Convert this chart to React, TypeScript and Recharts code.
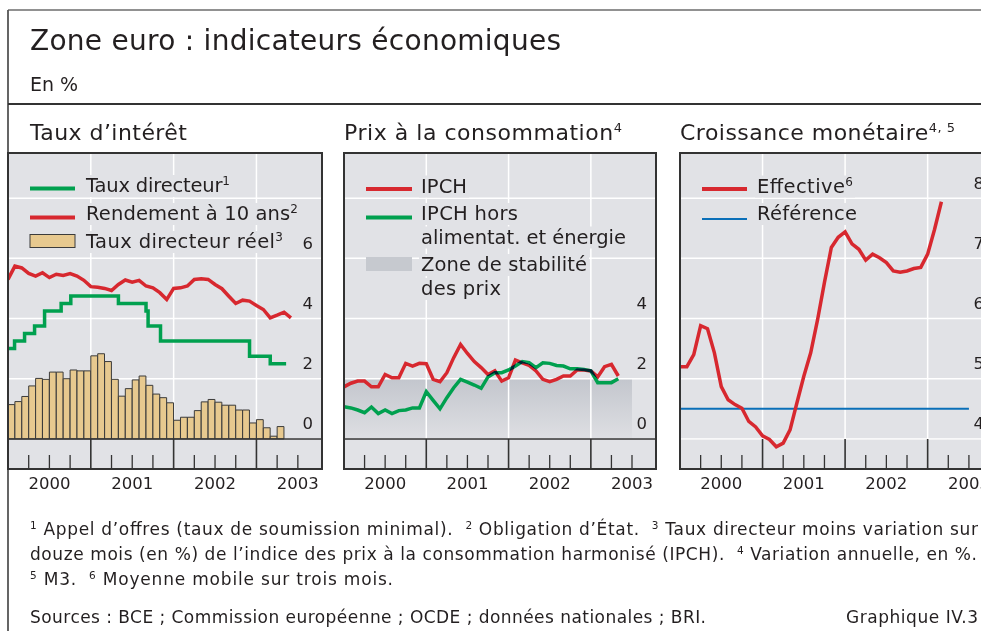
import React from "react";
import {
  ComposedChart,
  Bar,
  Line,
  XAxis,
  YAxis,
  CartesianGrid,
  ReferenceArea,
  ReferenceLine,
} from "recharts";

// x is counted in months from January 2000 (0) to autumn 2003
const YEARS = ["2000", "2001", "2002", "2003"];
const QUARTER_TICKS = [0, 3, 6, 9, 12, 15, 18, 21, 24, 27, 30, 33, 36, 39, 42];
const YEAR_STARTS = [12, 24, 36];
const LAST_MONTH = 45.5;

// Taux d'intérêt
const realPolicyRate = [
  1.14, 1.24, 1.41, 1.76, 2.01, 1.98, 2.22, 2.22, 2.0, 2.29, 2.26, 2.26,
  2.76, 2.83, 2.57, 1.98, 1.42, 1.67, 1.96, 2.09, 1.78, 1.49, 1.37, 1.2,
  0.62, 0.72, 0.72, 0.94, 1.23, 1.31, 1.22, 1.12, 1.12, 0.96, 0.96, 0.53,
  0.64, 0.37, 0.09, 0.41,
];
const bondYield = [
  5.3, 5.74, 5.68, 5.5, 5.41, 5.52, 5.36, 5.47, 5.43, 5.49, 5.41, 5.27,
  5.06, 5.04, 5.0, 4.93, 5.13, 5.28, 5.21, 5.27, 5.08, 5.02, 4.86, 4.63,
  5.0, 5.02, 5.08, 5.3, 5.32, 5.3, 5.13, 4.99, 4.74, 4.5, 4.61, 4.58,
  4.43, 4.3, 4.02, 4.11, 4.21, 4.02,
];
const policyRateFrom = [0, 0.95, 2.4, 3.85, 5.3, 7.7, 9.1, 16.0, 20.0, 20.3, 22.1, 35.0, 38.0, 40.3];
const policyRate = [3.0, 3.25, 3.5, 3.75, 4.25, 4.5, 4.75, 4.5, 4.25, 3.75, 3.25, 2.75, 2.5, 2.5];

// Prix à la consommation
const hicp = [
  1.73, 1.85, 1.92, 1.92, 1.73, 1.73, 2.14, 2.03, 2.03, 2.51, 2.42, 2.51,
  2.5, 1.98, 1.9, 2.2, 2.7, 3.14, 2.84, 2.57, 2.37, 2.14, 2.26, 1.92,
  2.03, 2.62, 2.53, 2.44, 2.26, 1.98, 1.9, 1.98, 2.09, 2.09, 2.29, 2.29,
  2.26, 2.06, 2.4, 2.48, 2.09,
];
const hicpCore = [
  1.07, 1.03, 0.96, 0.87, 1.06, 0.84, 0.96, 0.84, 0.94, 0.96, 1.03, 1.03,
  1.57, 1.28, 1.0, 1.37, 1.7, 1.98, 1.89, 1.79, 1.68, 2.06, 2.2, 2.2,
  2.29, 2.42, 2.57, 2.53, 2.37, 2.53, 2.51, 2.44, 2.42, 2.33, 2.33, 2.31,
  2.26, 1.87, 1.87, 1.87, 2.0,
];
const stabilityZone = [0, 2];
const stabilityUntil = 42;

// Croissance monétaire
const m3Growth = [
  5.2, 5.2, 5.4, 5.88, 5.83, 5.43, 4.87, 4.65, 4.57, 4.51, 4.29, 4.2,
  4.05, 3.99, 3.87, 3.93, 4.15, 4.6, 5.04, 5.43, 5.98, 6.6, 7.18, 7.35,
  7.44, 7.24, 7.15, 6.97, 7.07, 7.01, 6.93, 6.79, 6.77, 6.79, 6.83, 6.85,
  7.07, 7.48, 7.94,
];
const m3Reference = 4.5;
const m3ReferenceSpan = [0, 42];

// notes ("^" = superscript, "|" = wider gap before)
const note1 = ["^1", " Appel d’offres (taux de soumission minimal).", "|^2", " Obligation d’État.", "|^3", " Taux directeur moins variation sur"];
const note2 = ["douze mois (en %) de l’indice des prix à la consommation harmonisé (IPCH).", "|^4", " Variation annuelle, en %."];
const note3 = ["^5", " M3.", "|^6", " Moyenne mobile sur trois mois."];

const barRows = realPolicyRate.map((v, i) => ({ m: i + 0.5, v }));
const bondRows = bondYield.map((v, i) => ({ m: i, v }));
const policyRows = policyRateFrom.map((m, i) => ({ m, v: policyRate[i] }));
const hicpRows = hicp.map((v, i) => ({ m: i, v }));
const coreRows = hicpCore.map((v, i) => ({ m: i, v }));
const m3Rows = m3Growth.map((v, i) => ({ m: i, v }));
const refRows = m3ReferenceSpan.map((m) => ({ m, v: m3Reference }));

const FONT = '"DejaVu Sans", sans-serif';
const INK = "#231f20";
const RED = "#d7282f";
const GREEN = "#00a04f";
const BLUE = "#0a6fb8";
const TAN = "#e7c98f";
const BG = "#e1e2e6";
const FRAME = "#333333";

const PLOT_TOP = 153;
const PLOT_H = 316;
const AXIS_H = 40;
const STRIP = 30;

const DateTick = (props: any) => {
  const { x, y, payload } = props;
  const m = payload.value as number;
  const yearStart = m % 12 === 0;
  const label = m % 12 === 6 ? YEARS[(m - 6) / 12] : null;
  return (
    <g>
      {m > 0 && (
        <line
          x1={x}
          x2={x}
          y1={y}
          y2={y - (yearStart ? STRIP : 14)}
          stroke={FRAME}
          strokeWidth={yearStart ? 1.6 : 1.3}
        />
      )}
      {label && (
        <text x={x} y={y + 20} textAnchor="middle" fontSize={16.5} fontFamily={FONT} fill={INK}>
          {label}
        </text>
      )}
    </g>
  );
};

const valueTick = (plotWidth: number, shown: number[]) => (props: any) => {
  const { y, payload } = props;
  if (!shown.includes(payload.value)) return <g />;
  return (
    <text x={plotWidth - 9} y={y - 9.5} textAnchor="end" fontSize={16.5} fontFamily={FONT} fill={INK}>
      {payload.value}
    </text>
  );
};

const yearGrid = (p: any) => {
  const scale = p?.xAxis?.scale;
  return YEAR_STARTS.map((m) =>
    typeof scale === "function" ? scale(m) : p.offset.left + (m / LAST_MONTH) * p.offset.width
  );
};

const xAxisMain = (
  <XAxis
    dataKey="m"
    type="number"
    domain={[0, LAST_MONTH]}
    allowDataOverflow
    ticks={QUARTER_TICKS}
    interval={0}
    tick={DateTick}
    tickLine={false}
    axisLine={false}
    tickSize={0}
    tickMargin={0}
    height={AXIS_H}
  />
);

const valueAxis = (w: number, domain: number[], ticks: number[], shown: number[]) => (
  <YAxis
    domain={domain}
    allowDataOverflow
    ticks={ticks}
    interval={0}
    orientation="right"
    mirror
    width={40}
    axisLine={false}
    tickLine={false}
    tick={valueTick(w, shown)}
  />
);

// text with superscript pieces, written as tspans
function Rich({ parts, size, supSize, up, gap = 0 }: any) {
  let raised = false;
  return parts.map((raw: string, i: number) => {
    const wide = raw.startsWith("|");
    const s = wide ? raw.slice(1) : raw;
    const sup = s.startsWith("^");
    const t = sup ? s.slice(1) : s;
    const dy = sup && !raised ? -up : !sup && raised ? up : undefined;
    raised = sup;
    return (
      <tspan key={i} dy={dy} dx={wide ? gap : undefined} fontSize={sup ? supSize : size}>
        {t}
      </tspan>
    );
  });
}

const LegendText = ({ x, y, len, parts }: any) => (
  <g>
    <rect x={x - 2} y={y - 17} width={len + 4} height={22} fill={BG} />
    <text x={x} y={y} fontSize={19.5} textLength={len} lengthAdjust="spacing" fill={INK}>
      <Rich parts={parts} size={19.5} supSize={12} up={7} />
    </text>
  </g>
);

function RatesChart() {
  const w = 314;
  return (
    <ComposedChart width={w} height={PLOT_H + AXIS_H} data={barRows} margin={{ top: 0, right: 0, bottom: 0, left: 0 }}>
      {xAxisMain}
      <XAxis xAxisId="bars" dataKey="m" type="number" domain={[0, LAST_MONTH]} allowDataOverflow hide />
      {valueAxis(w, [-1, 9.5], [0, 2, 4, 6, 8], [0, 2, 4, 6])}
      <CartesianGrid stroke="#ffffff" strokeWidth={1.5} verticalCoordinatesGenerator={yearGrid} syncWithTicks={false} />
      <ReferenceArea y1={-1} y2={0} fill={BG} fillOpacity={1} stroke="none" zIndex={-50} />
      <Bar xAxisId="bars" dataKey="v" fill={TAN} stroke="#3b3b3b" strokeWidth={1} barSize={6.8} isAnimationActive={false} />
      <ReferenceLine y={0} stroke={FRAME} strokeWidth={1.5} />
      <Line data={bondRows} dataKey="v" type="linear" stroke={RED} strokeWidth={3.5} dot={false} isAnimationActive={false} />
      <Line data={policyRows} dataKey="v" type="stepAfter" stroke={GREEN} strokeWidth={3.5} dot={false} isAnimationActive={false} />
    </ComposedChart>
  );
}

function PricesChart() {
  const w = 312;
  return (
    <ComposedChart width={w} height={PLOT_H + AXIS_H} margin={{ top: 0, right: 0, bottom: 0, left: 0 }}>
      <defs>
        <linearGradient id="zoneFill" x1="0" y1="0" x2="0" y2="1">
          <stop offset="0%" stopColor="#c3c6cd" />
          <stop offset="100%" stopColor="#dedfe3" />
        </linearGradient>
      </defs>
      {xAxisMain}
      {valueAxis(w, [-1, 9.5], [0, 2, 4, 6, 8], [0, 2, 4])}
      <ReferenceArea
        x1={0}
        x2={stabilityUntil}
        y1={stabilityZone[0]}
        y2={stabilityZone[1]}
        fill="url(#zoneFill)"
        fillOpacity={1}
        stroke="none"
        zIndex={-200}
      />
      <CartesianGrid stroke="#ffffff" strokeWidth={1.5} verticalCoordinatesGenerator={yearGrid} syncWithTicks={false} />
      <ReferenceArea y1={-1} y2={0} fill={BG} fillOpacity={1} stroke="none" zIndex={-50} />
      <ReferenceLine y={0} stroke={FRAME} strokeWidth={1.5} />
      <Line data={hicpRows} dataKey="v" type="linear" stroke={RED} strokeWidth={3.5} dot={false} isAnimationActive={false} />
      <Line
        className="core-line"
        data={coreRows}
        dataKey="v"
        type="linear"
        stroke={GREEN}
        strokeWidth={3.5}
        dot={false}
        isAnimationActive={false}
      />
    </ComposedChart>
  );
}

function MoneyChart() {
  const w = 313;
  return (
    <ComposedChart width={w} height={PLOT_H + AXIS_H} margin={{ top: 0, right: 0, bottom: 0, left: 0 }}>
      {xAxisMain}
      {valueAxis(w, [3.5, 8.75], [4, 5, 6, 7, 8], [4, 5, 6, 7, 8])}
      <CartesianGrid stroke="#ffffff" strokeWidth={1.5} verticalCoordinatesGenerator={yearGrid} syncWithTicks={false} />
      <ReferenceArea y1={3.5} y2={3.985} fill={BG} fillOpacity={1} stroke="none" zIndex={-50} />
      <Line data={refRows} dataKey="v" type="linear" stroke={BLUE} strokeWidth={2} dot={false} isAnimationActive={false} />
      <Line data={m3Rows} dataKey="v" type="linear" stroke={RED} strokeWidth={3.5} dot={false} isAnimationActive={false} />
    </ComposedChart>
  );
}

const panels = [
  { left: 8, width: 314, chart: <RatesChart /> },
  { left: 344, width: 312, chart: <PricesChart /> },
  { left: 680, width: 313, chart: <MoneyChart /> },
];

export default function App() {
  return (
    <div
      style={{
        position: "absolute",
        left: 0,
        top: 0,
        width: 981,
        height: 631,
        overflow: "hidden",
        background: "#ffffff",
        fontFamily: FONT,
      }}
    >
      <style>{`.core-line path { mix-blend-mode: darken; }`}</style>
      {panels.map((p, i) => (
        <div key={i} style={{ position: "absolute", left: p.left, top: PLOT_TOP }}>
          <div style={{ position: "absolute", left: 0, top: 0, width: p.width, height: PLOT_H, background: BG }} />
          <div style={{ position: "absolute", left: 0, top: 0 }}>{p.chart}</div>
        </div>
      ))}

      <svg
        width={981}
        height={631}
        style={{ position: "absolute", left: 0, top: 0, pointerEvents: "none" }}
        fontFamily={FONT}
        fill={INK}
      >
        {/* frames */}
        <line x1={8} y1={10} x2={981} y2={10} stroke="#6d6d6d" strokeWidth={1.5} />
        <line x1={8} y1={10} x2={8} y2={631} stroke="#555" strokeWidth={1.8} />
        <line x1={8} y1={104} x2={981} y2={104} stroke={FRAME} strokeWidth={2} />
        {panels.map((p, i) => (
          <rect key={i} x={p.left} y={PLOT_TOP} width={p.width} height={PLOT_H} fill="none" stroke={FRAME} strokeWidth={2} />
        ))}

        {/* titles */}
        <text x={30} y={50} fontSize={28} textLength={531} lengthAdjust="spacing">
          Zone euro : indicateurs économiques
        </text>
        <text x={30} y={91} fontSize={19}>
          En %
        </text>
        <text x={30} y={140} fontSize={22} textLength={157} lengthAdjust="spacing">
          Taux d’intérêt
        </text>
        <text x={344} y={140} fontSize={22} textLength={278} lengthAdjust="spacing">
          <Rich parts={["Prix à la consommation", "^4"]} size={22} supSize={13} up={8} />
        </text>
        <text x={680} y={140} fontSize={22} textLength={275} lengthAdjust="spacing">
          <Rich parts={["Croissance monétaire", "^4, 5"]} size={22} supSize={13} up={8} />
        </text>

        {/* legend: taux d'intérêt */}
        <line x1={30} x2={75} y1={188.5} y2={188.5} stroke={GREEN} strokeWidth={4} />
        <LegendText x={86} y={192} len={144} parts={["Taux directeur", "^1"]} />
        <line x1={30} x2={75} y1={217.5} y2={217.5} stroke={RED} strokeWidth={4} />
        <LegendText x={86} y={220} len={212} parts={["Rendement à 10 ans", "^2"]} />
        <rect x={30} y={234.5} width={45} height={13} fill={TAN} stroke="#3b3b3b" strokeWidth={1} />
        <LegendText x={86} y={248} len={197} parts={["Taux directeur réel", "^3"]} />

        {/* legend: prix */}
        <line x1={366} x2={412} y1={189} y2={189} stroke={RED} strokeWidth={4} />
        <LegendText x={421} y={192.5} len={46} parts={["IPCH"]} />
        <line x1={366} x2={412} y1={217.5} y2={217.5} stroke={GREEN} strokeWidth={4} />
        <LegendText x={421} y={220} len={97} parts={["IPCH hors"]} />
        <LegendText x={421} y={243.5} len={205} parts={["alimentat. et énergie"]} />
        <rect x={366} y={257} width={46} height={14} fill="#c6c9cf" />
        <LegendText x={421} y={271} len={166} parts={["Zone de stabilité"]} />
        <LegendText x={421} y={295} len={80} parts={["des prix"]} />

        {/* legend: croissance monétaire */}
        <line x1={702} x2={747} y1={189} y2={189} stroke={RED} strokeWidth={4} />
        <LegendText x={757} y={192.5} len={96} parts={["Effective", "^6"]} />
        <line x1={702} x2={747} y1={219} y2={219} stroke={BLUE} strokeWidth={2} />
        <LegendText x={757} y={220} len={100} parts={["Référence"]} />

        {/* notes */}
        <text x={30} y={535} fontSize={17} textLength={948} lengthAdjust="spacing">
          <Rich parts={note1} size={17} supSize={10.5} up={6} gap={12} />
        </text>
        <text x={30} y={560} fontSize={17} textLength={947} lengthAdjust="spacing">
          <Rich parts={note2} size={17} supSize={10.5} up={6} gap={12} />
        </text>
        <text x={30} y={585} fontSize={17} textLength={363} lengthAdjust="spacing">
          <Rich parts={note3} size={17} supSize={10.5} up={6} gap={12} />
        </text>
        <text x={30} y={623} fontSize={17} textLength={676} lengthAdjust="spacing">
          Sources : BCE ; Commission européenne ; OCDE ; données nationales ; BRI.
        </text>
        <text x={978} y={623} fontSize={17} textAnchor="end" textLength={132} lengthAdjust="spacing">
          Graphique IV.3
        </text>
      </svg>
    </div>
  );
}
